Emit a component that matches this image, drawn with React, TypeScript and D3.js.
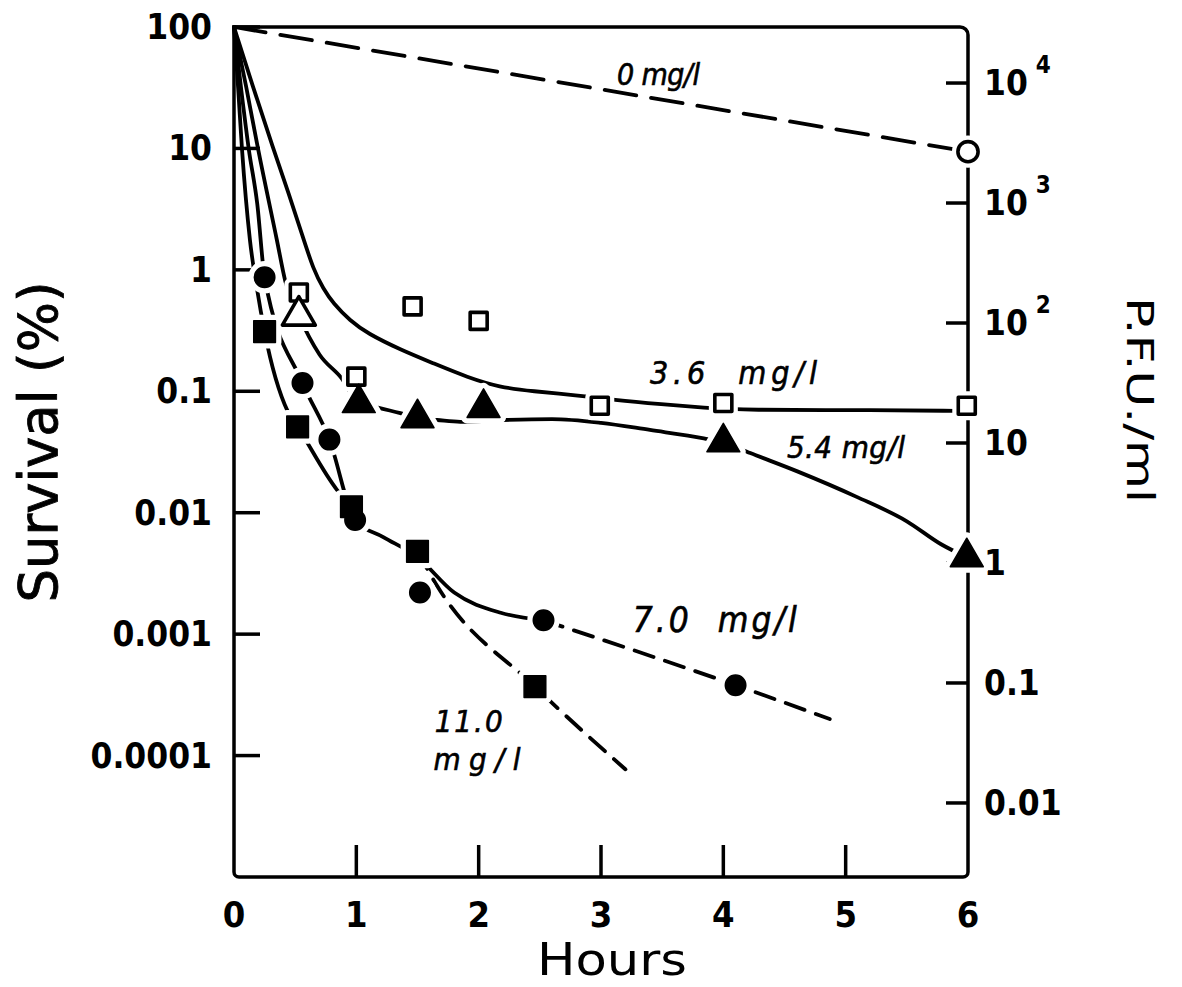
import React, { useRef, useEffect } from "react";
import * as d3 from "d3";

// Page / frame
const WIDTH = 1182;
const HEIGHT = 987;
const LEFT = 234;
const RIGHT = 968;
const TOP = 27;
const BOTTOM = 877;

const FONT = "'DejaVu Sans Condensed', 'DejaVu Sans', sans-serif";
const LINE_W = 3.8;
const AXIS_W = 3.5;

// Axes
const hourTicks = [0, 1, 2, 3, 4, 5, 6];
const survivalTicks = [100, 10, 1, 0.1, 0.01, 0.001, 0.0001];
const survivalLabels = ["100", "10", "1", "0.1", "0.01", "0.001", "0.0001"];
const pfuTicks = [10000, 1000, 100, 10, 1, 0.1, 0.01];
const pfuBase = ["10", "10", "10", "10", "1", "0.1", "0.01"];
const pfuExp = ["4", "3", "2", "", "", "", ""];

// 0 mg/l (open circle, dashed)
const mg0Points: [number, number][] = [[6.0, 9.4]];
const mg0Line: [number, number][] = [[0, 100], [6.0, 9.4]];

// 3.6 mg/l (open squares, solid fit)
const mg36Points: [number, number][] = [
  [0.53, 0.65], [1.0, 0.132], [1.46, 0.5], [2.0, 0.38], [2.99, 0.076], [4.0, 0.08], [5.99, 0.076]
];
const mg36Line: [number, number][] = [
  [0, 100], [0.16, 31], [0.32, 10], [0.45, 4.2], [0.56, 1.9], [0.65, 1.0], [0.73, 0.7],
  [0.81, 0.53], [0.95, 0.38], [1.09, 0.3], [1.36, 0.22], [1.63, 0.17], [1.91, 0.13],
  [2.17, 0.108], [2.44, 0.1], [2.8, 0.093], [3.1, 0.085], [3.5, 0.078], [3.85, 0.073],
  [4.15, 0.07], [5.28, 0.07], [5.9, 0.069]
];

// 5.4 mg/l (triangles, solid fit)
const mg54Points: [number, number][] = [
  [0.53, 0.42], [1.02, 0.08], [1.5, 0.06], [2.04, 0.073], [4.0, 0.038], [5.99, 0.0043]
];
const mg54Line: [number, number][] = [
  [0, 100], [0.1, 32], [0.196, 10], [0.35, 1.77], [0.42, 0.8], [0.53, 0.42], [0.7, 0.2],
  [0.88, 0.128], [1.02, 0.08], [1.14, 0.075], [1.36, 0.066], [1.5, 0.06], [1.66, 0.058],
  [1.85, 0.056], [2.2, 0.058], [2.6, 0.059], [3.0, 0.055], [3.4, 0.048], [3.84, 0.041],
  [4.0, 0.038], [4.22, 0.031], [4.6, 0.022], [5.09, 0.0135], [5.5, 0.0085], [5.78, 0.0055], [5.99, 0.0043]
];

// 7.0 mg/l (filled circles)
const mg70Points: [number, number][] = [
  [0.25, 0.87], [0.56, 0.117], [0.78, 0.04], [0.99, 0.0087], [1.52, 0.0022], [2.53, 0.0013], [4.1, 0.00038]
];
const mg70Solid: [number, number][] = [
  [0, 100], [0.06, 30], [0.12, 10], [0.19, 3.5], [0.25, 0.87], [0.56, 0.117], [0.78, 0.04],
  [0.99, 0.0087], [1.22, 0.0063], [1.5, 0.0043], [1.8, 0.0022], [2.18, 0.0015], [2.53, 0.0013]
];
const mg70Dashed: [number, number][] = [[2.53, 0.0013], [4.1, 0.00038], [4.87, 0.0002]];

// 11.0 mg/l (filled squares)
const mg110Points: [number, number][] = [
  [0.25, 0.31], [0.52, 0.051], [0.96, 0.0112], [1.5, 0.0048], [2.46, 0.00037]
];
const mg110Solid: [number, number][] = [
  [0, 100], [0.035, 30], [0.065, 10], [0.13, 1.77], [0.19, 0.68], [0.25, 0.31], [0.44, 0.068],
  [0.52, 0.051], [0.84, 0.0155], [0.96, 0.0112]
];
const mg110Dashed: [number, number][] = [[1.5, 0.0048], [1.66, 0.0025], [2.46, 0.00037], [3.2, 0.000077]];

// Curve labels: text, anchor [hours, survival], font size, width
const labelTexts = ["0 mg/l", "3.6  mg/l", "5.4 mg/l", "7.0  mg/l", "11.0", "mg/l"];
const labelAnchors: [number, number][] = [
  [3.13, 33], [3.4, 0.115], [4.52, 0.028], [3.26, 0.00104], [1.64, 0.000156], [1.63, 0.000076]
];
const labelSizes = [30, 32, 31, 35, 31, 31];
const labelWidths = [83, 167, 118, 164, 68, 87];

export default function App() {
  const svgRef = useRef<SVGSVGElement>(null);

  useEffect(() => {
    const svg = d3.select(svgRef.current);
    svg.selectAll("*").remove();

    const x = d3.scaleLinear().domain([0, 6]).range([LEFT, RIGHT]);
    const y = d3.scaleLog().domain([1e-5, 100]).range([BOTTOM, TOP]);
    const yR = d3.scaleLog().domain([Math.pow(10, -2.617), Math.pow(10, 4.467)]).range([BOTTOM, TOP]);

    svg.append("rect").attr("width", WIDTH).attr("height", HEIGHT).attr("fill", "#fff");

    // frame with rounded corners
    const p = d3.path();
    p.moveTo(LEFT, TOP);
    p.lineTo(LEFT, BOTTOM - 5);
    p.arcTo(LEFT, BOTTOM, LEFT + 5, BOTTOM, 5);
    p.lineTo(RIGHT - 5, BOTTOM);
    p.arcTo(RIGHT, BOTTOM, RIGHT, BOTTOM - 5, 5);
    p.lineTo(RIGHT, TOP + 8);
    p.arcTo(RIGHT, TOP, RIGHT - 8, TOP, 8);
    p.closePath();
    svg.append("path").attr("d", p.toString()).attr("fill", "none")
      .attr("stroke", "#000").attr("stroke-width", AXIS_W).attr("stroke-linejoin", "round");

    // ticks
    survivalTicks.forEach((v) => {
      svg.append("line").attr("x1", LEFT).attr("x2", LEFT + 26)
        .attr("y1", y(v)).attr("y2", y(v))
        .attr("stroke", "#000").attr("stroke-width", AXIS_W);
    });
    pfuTicks.forEach((v) => {
      svg.append("line").attr("x1", RIGHT - 22).attr("x2", RIGHT)
        .attr("y1", yR(v)).attr("y2", yR(v))
        .attr("stroke", "#000").attr("stroke-width", AXIS_W);
    });
    hourTicks.slice(1, -1).forEach((h) => {
      svg.append("line").attr("x1", x(h)).attr("x2", x(h))
        .attr("y1", BOTTOM).attr("y2", BOTTOM - 32)
        .attr("stroke", "#000").attr("stroke-width", AXIS_W);
    });

    // tick labels
    const tickFont = (sel: any, size: number) =>
      sel.attr("font-family", FONT).attr("font-stretch", "condensed")
        .attr("font-size", size).attr("font-weight", "bold").attr("fill", "#000");

    survivalTicks.forEach((v, i) => {
      tickFont(svg.append("text"), 35)
        .attr("x", 212).attr("y", y(v) + 12)
        .attr("text-anchor", "end")
        .text(survivalLabels[i]);
    });
    hourTicks.forEach((h) => {
      tickFont(svg.append("text"), 36)
        .attr("x", x(h)).attr("y", 927)
        .attr("text-anchor", "middle")
        .text(String(h));
    });
    pfuTicks.forEach((v, i) => {
      const t = tickFont(svg.append("text"), 35)
        .attr("x", 984).attr("y", yR(v) + 12);
      t.append("tspan").text(pfuBase[i]);
      if (pfuExp[i]) {
        t.append("tspan").attr("dx", 8).attr("dy", -22).attr("font-size", 24).text(pfuExp[i]);
      }
    });

    // axis titles
    svg.append("text")
      .attr("transform", "translate(57,442) rotate(-90)")
      .attr("text-anchor", "middle")
      .attr("font-family", FONT).attr("font-size", 54)
      .attr("stroke", "#000").attr("stroke-width", 0.8)
      .attr("textLength", 321).attr("lengthAdjust", "spacingAndGlyphs")
      .text("Survival (%)");
    svg.append("text")
      .attr("transform", "translate(1127,400) rotate(90)")
      .attr("text-anchor", "middle")
      .attr("font-family", FONT).attr("font-size", 37)
      .attr("textLength", 206).attr("lengthAdjust", "spacingAndGlyphs")
      .text("P.F.U./ml");
    svg.append("text")
      .attr("x", 612).attr("y", 975)
      .attr("text-anchor", "middle")
      .attr("font-family", FONT).attr("font-size", 44)
      .attr("textLength", 150).attr("lengthAdjust", "spacingAndGlyphs")
      .text("Hours");

    // curves: the two upper fits are smooth hand-drawn curves, the others join the points
    const smoothLine = d3.line<[number, number]>()
      .x((d) => x(d[0]))
      .y((d) => y(d[1]))
      .curve(d3.curveBasis);
    const line = d3.line<[number, number]>()
      .x((d) => x(d[0]))
      .y((d) => y(d[1]))
      .curve(d3.curveMonotoneX);

    const drawLine = (d: string | null, dash: string | null) => {
      svg.append("path")
        .attr("d", d)
        .attr("fill", "none")
        .attr("stroke", "#000")
        .attr("stroke-width", LINE_W)
        .attr("stroke-linecap", "round")
        .attr("stroke-dasharray", dash);
    };

    drawLine(line(mg0Line), "32,15");
    drawLine(smoothLine(mg36Line), null);
    drawLine(line(mg54Line), null);
    drawLine(line(mg70Solid), null);
    drawLine(line(mg70Dashed), "20,12");
    drawLine(line(mg110Solid), null);
    drawLine(line(mg110Dashed), "20,12");

    // markers
    const markerSets = [
      { pts: mg0Points, type: d3.symbolCircle, size: 320, filled: false },
      { pts: mg36Points, type: d3.symbolSquare, size: 289, filled: false },
      { pts: mg54Points, type: d3.symbolTriangle, size: 470, filled: true },
      { pts: mg70Points, type: d3.symbolCircle, size: 330, filled: true },
      { pts: mg110Points, type: d3.symbolSquare, size: 470, filled: true }
    ];

    // white halo first so lines and axes break around the symbols
    markerSets.forEach((m) => {
      m.pts.forEach((d) => {
        svg.append("path")
          .attr("transform", `translate(${x(d[0])},${y(d[1])})`)
          .attr("d", d3.symbol().type(m.type).size(m.size)())
          .attr("fill", "#fff").attr("stroke", "#fff").attr("stroke-width", 12)
          .attr("stroke-linejoin", "round");
      });
    });
    markerSets.forEach((m) => {
      m.pts.forEach((d, i) => {
        // first triangle of the 5.4 mg/l series is drawn hollow
        const hollow = !m.filled || (m.type === d3.symbolTriangle && i === 0);
        svg.append("path")
          .attr("transform", `translate(${x(d[0])},${y(d[1])})`)
          .attr("d", d3.symbol().type(m.type).size(m.size)())
          .attr("fill", hollow ? "#fff" : "#000")
          .attr("stroke", "#000")
          .attr("stroke-width", hollow ? 3.6 : 1.5)
          .attr("stroke-linejoin", "round");
      });
    });

    // curve labels
    labelTexts.forEach((txt, i) => {
      svg.append("text")
        .attr("x", x(labelAnchors[i][0]))
        .attr("y", y(labelAnchors[i][1]))
        .attr("font-family", FONT)
        .attr("font-style", "italic")
        .attr("font-size", labelSizes[i])
        .attr("stroke", "#000").attr("stroke-width", 0.6)
        .attr("textLength", labelWidths[i])
        .attr("lengthAdjust", "spacing")
        .style("white-space", "pre")
        .text(txt);
    });
  }, []);

  return (
    <svg
      ref={svgRef}
      width={WIDTH}
      height={HEIGHT}
      style={{ position: "absolute", left: 0, top: 0, display: "block" }}
    />
  );
}
